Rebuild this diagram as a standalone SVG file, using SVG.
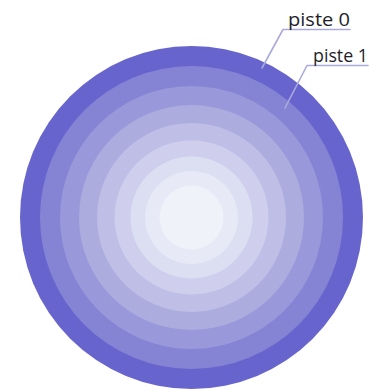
<svg xmlns="http://www.w3.org/2000/svg" width="375" height="391" viewBox="0 0 375 391">
<style>
.lbl{font-family:"Open Sans","Liberation Sans",sans-serif;font-size:19px;fill:#1e1e2a}
.lead{fill:none;stroke:#aaaadc;stroke-width:1.6;stroke-linecap:round;stroke-linejoin:round}
</style>
<rect width="375" height="391" fill="#ffffff"/>
<g id="disque">
<circle cx="191.5" cy="217.5" r="171.5" fill="#6765cd"/>
<circle cx="191.5" cy="217.5" r="151.5" fill="#8584d4"/>
<circle cx="191.5" cy="217.5" r="131.5" fill="#9898da"/>
<circle cx="191.5" cy="217.5" r="112.5" fill="#acacdf"/>
<circle cx="191.5" cy="217.5" r="94.5" fill="#bebee6"/>
<circle cx="191.5" cy="217.5" r="77" fill="#cfcfed"/>
<circle cx="191.5" cy="217.5" r="61" fill="#dcdef2"/>
<circle cx="191.5" cy="217.5" r="46.5" fill="#e7e9f6"/>
<circle cx="191.5" cy="217.5" r="32" fill="#f0f2f9"/>
</g>
<g id="connecteurs">
<polyline class="lead" points="350,29.5 283,29.5 262,68"/>
<polyline class="lead" points="368,65.5 307,65.5 285,108"/>
</g>
<g id="piste0">
<text class="lbl" x="288" y="26" textLength="62" lengthAdjust="spacingAndGlyphs">piste 0</text>
</g>
<g id="piste1">
<text class="lbl" x="313" y="62" textLength="55" lengthAdjust="spacingAndGlyphs">piste 1</text>
</g>
</svg>
